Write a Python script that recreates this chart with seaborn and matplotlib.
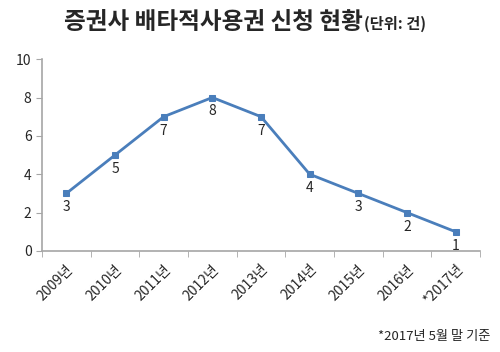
import pandas as pd
import matplotlib
matplotlib.use("Agg")
import matplotlib.pyplot as plt
import seaborn as sns

years = ["2009년", "2010년", "2011년", "2012년", "2013년", "2014년", "2015년", "2016년", "*2017년"]
counts = [3, 5, 7, 8, 7, 4, 3, 2, 1]

sns.set_style("white")
plt.rcParams['font.family'] = ['Noto Sans CJK KR', 'DejaVu Sans']

df = pd.DataFrame({"year": years, "count": counts})
df["pos"] = range(len(df))

fig = plt.figure(figsize=(5, 3.52), dpi=100)
ax = fig.add_axes([0.084, 0.287, 0.876, 0.545])

sns.lineplot(data=df, x="pos", y="count", ax=ax, color="#4A7EBB", linewidth=2,
             marker="s", markersize=5, markeredgecolor="#4A7EBB")

for p, c in zip(df["pos"], df["count"]):
    ax.annotate(str(c), (p, c), xytext=(0, -5), textcoords="offset points",
                ha="center", va="top", fontsize=10)

ax.set_xlim(-0.5, len(years) - 0.5)
ax.set_ylim(0, 10)
ax.set_yticks(range(0, 11, 2))
ax.set_xticks(df["pos"])
ax.set_xticklabels(years, rotation=45, ha="right", rotation_mode="anchor", fontsize=10)
ax.set_xticks([i - 0.5 for i in range(len(years) + 1)], minor=True)
ax.tick_params(axis="x", which="major", length=0, pad=8)
ax.tick_params(axis="x", which="minor", length=4, color="#A6A6A6", direction="out", bottom=True)
ax.tick_params(axis="y", length=4, color="#A6A6A6", direction="out", left=True, labelsize=10)
ax.set_xlabel("")
ax.set_ylabel("")
for s in ["top", "right"]:
    ax.spines[s].set_visible(False)
for s in ["left", "bottom"]:
    ax.spines[s].set_color("#A6A6A6")
    ax.spines[s].set_linewidth(1.2)

fig.text(0.726, 0.918, "증권사 배타적사용권 신청 현황", ha="right", va="baseline",
         fontsize=17, fontweight="bold")
fig.text(0.728, 0.918, "(단위: 건)", ha="left", va="baseline", fontsize=11, fontweight="bold")
fig.text(0.98, 0.045, "*2017년 5월 말 기준", ha="right", va="center", fontsize=9.5)

fig.savefig("out.png", dpi=100)
